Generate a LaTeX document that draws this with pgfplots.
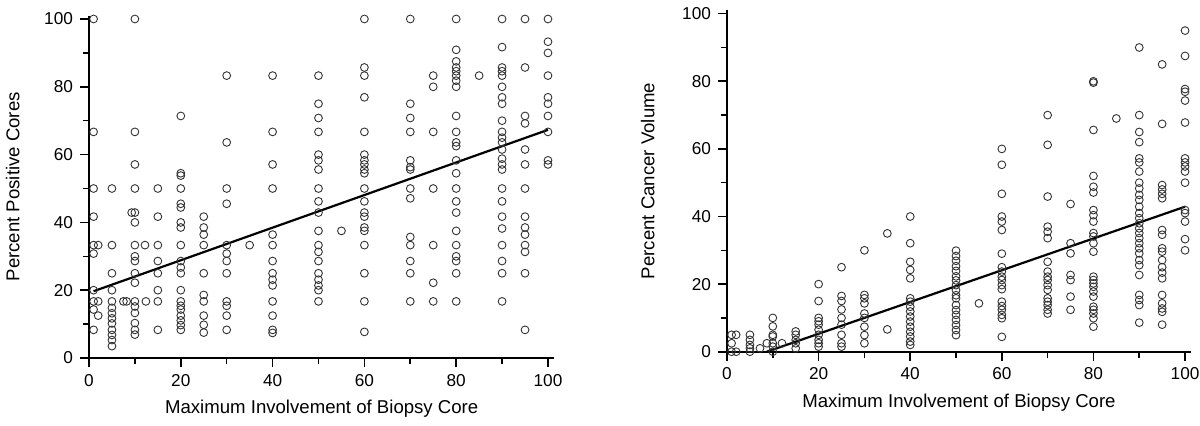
\documentclass[border=0pt]{standalone}
\usepackage{pgfplots}
\pgfplotsset{compat=1.18}
\usepackage{fontspec}
\setmainfont{Liberation Sans}
\begin{document}
\begin{tikzpicture}
\path[use as bounding box] (0,0) rectangle (600pt,212.5pt);
\pgfplotsset{
  myax/.style={
    scale only axis, axis lines=left, axis line style={-, line width=1pt},
    xmin=0, ymin=0, clip=false,
    xtick={0,20,...,100}, ytick={0,20,...,100},
    minor xtick={10,30,...,90}, minor ytick={10,30,...,90},
    tick align=outside, major tick length=4.5pt, minor tick length=3pt,
    every tick/.style={black, line width=0.8pt},
    tick label style={font=\fontsize{8.6}{10}\selectfont},
    label style={font=\fontsize{9.3}{11}\selectfont},
    /pgf/number format/assume math mode=true,
    xlabel={Maximum Involvement of Biopsy Core},
  },
  pts/.style={only marks, mark=o, mark size=1.95pt, mark options={draw=black!80, line width=0.45pt}},
  reg/.style={black, line width=1.1pt, no marks},
}
\begin{axis}[myax, at={(44.5pt,33.5pt)}, anchor=south west,
  width=232.7pt, height=171.2pt, xmax=101.4, ymax=101,
  ylabel shift=5.5pt,
  ylabel={Percent Positive Cores}]
\addplot[pts] coordinates {
(1,100)(1,66.7)(1,50)(1,41.7)(1,33.3)(1,30.8)(1,20)(1,16.7)(1,14.3)(1,8.3)
(2,33.3)(2,16.7)(2,12.5)
(5,50)(5,33.3)(5,25)(5,20)(5,16.7)(5,14.8)(5,13.2)(5,11.7)(5,10.2)(5,8.3)(5,6.8)(5,5.3)(5,3.5)
(7.5,16.7)(8.2,16.7)(9.3,42.9)
(10,100)(10,66.7)(10,57.1)(10,50)(10,42.9)(10,40)(10,33.3)(10,30)(10,28.6)(10,25)(10,22.2)(10,16.7)(10,15.2)(10,13.3)(10,10.3)(10,8.3)(10,6.9)
(12.2,33.3)(12.4,16.7)
(15,50)(15,41.7)(15,33.3)(15,28.6)(15,25)(15,20)(15,16.7)(15,8.3)
(20,71.4)(20,54.5)(20,53.8)(20,50)(20,45.5)(20,44.4)(20,40)(20,38.5)(20,33.3)(20,28.6)(20,26.7)(20,25)(20,20)(20,16.7)(20,15.4)(20,14.3)(20,12.5)(20,11.1)(20,9.7)(20,8.3)
(25,41.7)(25,38.5)(25,36.4)(25,33.3)(25,25)(25,18.6)(25,16.7)(25,12.5)(25,9.8)(25,7.5)
(30,83.3)(30,63.6)(30,50)(30,45.5)(30,33.3)(30,30.8)(30,28.6)(30,25)(30,16.7)(30,15.4)(30,12.5)(30,8.3)
(35,33.3)
(40,83.3)(40,66.7)(40,57.1)(40,50)(40,36.4)(40,33.3)(40,28.6)(40,25)(40,23.1)(40,21.4)(40,16.7)(40,12.5)(40,8.3)(40,7.4)
(50,83.3)(50,75)(50,70.8)(50,66.7)(50,60)(50,58.3)(50,55.6)(50,50)(50,46.2)(50,42.9)(50,37.5)(50,33.3)(50,31.3)(50,28.6)(50,25)(50,23.1)(50,21.4)(50,20)(50,16.7)
(55,37.5)
(60,100)(60,85.7)(60,83.3)(60,76.9)(60,66.7)(60,60)(60,58.3)(60,57.1)(60,55.6)(60,54.5)(60,50)(60,46.2)(60,42.9)(60,41.7)(60,38.5)(60,37.5)(60,33.3)(60,25)(60,16.7)(60,7.7)
(70,100)(70,75)(70,70.8)(70,66.7)(70,58.3)(70,56.3)(70,55.6)(70,50)(70,47.1)(70,35.7)(70,33.3)(70,28.6)(70,25)(70,16.7)
(75,83.3)(75,80)(75,66.7)(75,50)(75,33.3)(75,22.2)(75,16.7)
(80,100)(80,90.9)(80,87.5)(80,85.7)(80,84.6)(80,83.3)(80,81.8)(80,80)(80,71.4)(80,66.7)(80,63.6)(80,62.5)(80,58.3)(80,54.5)(80,50)(80,46.2)(80,42.9)(80,37.5)(80,33.3)(80,30)(80,28.6)(80,25)(80,16.7)
(85,83.3)
(90,100)(90,91.7)(90,85.7)(90,84.6)(90,83.3)(90,80)(90,76.9)(90,75)(90,70)(90,66.7)(90,65)(90,63.6)(90,61.5)(90,58.8)(90,57.1)(90,55.6)(90,50)(90,46.2)(90,41.7)(90,38.2)(90,33.3)(90,28.6)(90,25)(90,16.7)
(95,100)(95,85.7)(95,71.4)(95,69.2)(95,61.5)(95,57.1)(95,50)(95,41.7)(95,38.5)(95,36.4)(95,33.3)(95,31.3)(95,25)(95,8.3)
(100,100)(100,93.3)(100,90)(100,83.3)(100,76.9)(100,75)(100,71.4)(100,66.7)(100,58.3)(100,57.1)
};
\addplot[reg] coordinates {(1,19.7)(100,67.3)};
\end{axis}
\begin{axis}[myax, at={(363.5pt,36.65pt)}, anchor=south west,
  width=232pt, height=170.7pt, xmax=101.3, ymax=101,
  ylabel shift=7pt,
  ylabel={Percent Cancer Volume}]
\addplot[pts] coordinates {
(1,5)(1,2.5)(1,0)(2,5)(2,0)
(5,5)(5,3.5)(5,2)(5,1)(5,0)
(7.2,1)(8.7,2.5)
(10,10)(10,7.5)(10,5)(10,4.5)(10,2.5)(10,1.5)(10,0)
(12,2.5)
(15,6)(15,5)(15,3.5)(15,2.5)(15,1)
(20,20)(20,15)(20,10)(20,9)(20,8)(20,6.5)(20,5)(20,3.5)(20,2.5)(20,1.5)
(25,25)(25,16.5)(25,15)(25,12.5)(25,10)(25,8)(25,5)(25,2.5)(25,1.5)
(30,30)(30,16.8)(30,15.8)(30,14.3)(30,11.3)(30,10)(30,7.4)(30,4.9)(30,2.5)
(35,35)(35,6.6)
(40,40)(40,32.1)(40,26.6)(40,24.2)(40,21.7)(40,15.8)(40,14.8)(40,13.3)(40,11.9)(40,10.4)(40,8.9)(40,7.4)(40,5.9)(40,4.5)(40,3)(40,2)
(50,29.9)(50,28.3)(50,26.9)(50,25.3)(50,23.9)(50,22.3)(50,21.1)(50,19.7)(50,18.2)(50,16.7)(50,15.8)(50,13.8)(50,12.3)(50,10.9)(50,9.4)(50,7.9)(50,6.4)(50,4.9)
(55,14.3)
(60,60)(60,55.3)(60,46.7)(60,40)(60,38.5)(60,36)(60,29)(60,25)(60,23.7)(60,22.2)(60,21.2)(60,19.7)(60,18.5)(60,14.8)(60,13.5)(60,12.4)(60,10.9)(60,9.9)(60,4.4)
(70,70)(70,61.2)(70,45.9)(70,37)(70,35.5)(70,33.6)(70,26.6)(70,23.7)(70,22.2)(70,21.2)(70,19.7)(70,18.3)(70,15.8)(70,14.8)(70,13.8)(70,12.4)(70,11.3)
(75,43.7)(75,32.1)(75,29.1)(75,22.7)(75,21.2)(75,16.3)(75,12.4)
(80,80)(80,79.6)(80,65.6)(80,52)(80,48.8)(80,47.1)(80,41.9)(80,40.4)(80,38.5)(80,35.1)(80,34.1)(80,32.1)(80,29.6)(80,22.2)(80,21.2)(80,20.2)(80,19.2)(80,17.8)(80,16.3)(80,13.3)(80,12.4)(80,11.3)(80,9.9)(80,7.4)
(85,69)
(90,90)(90,70)(90,65)(90,62)(90,57.2)(90,56)(90,53.3)(90,50)(90,48.3)(90,46.4)(90,44.9)(90,42.9)(90,41)(90,39.5)(90,38)(90,36.5)(90,35.1)(90,33.6)(90,32.1)(90,30.6)(90,29.1)(90,27.1)(90,25.6)(90,22.7)(90,16.8)(90,15.3)(90,13.8)(90,8.6)
(95,85)(95,67.4)(95,49.3)(95,48)(95,46.7)(95,45.4)(95,36)(95,34.6)(95,30.6)(95,29.6)(95,27.1)(95,25)(95,23.4)(95,21.7)(95,16.8)(95,14.3)(95,12.8)(95,11.8)(95,8)
(100,95)(100,87.5)(100,77.7)(100,76.9)(100,74.3)(100,67.8)(100,57.2)(100,56)(100,54.8)(100,53.3)(100,50)(100,41.9)(100,41)(100,38.5)(100,33.3)(100,30)
};
\addplot[reg] coordinates {(8.7,0)(100,42.9)};
\end{axis}
\end{tikzpicture}
\end{document}
